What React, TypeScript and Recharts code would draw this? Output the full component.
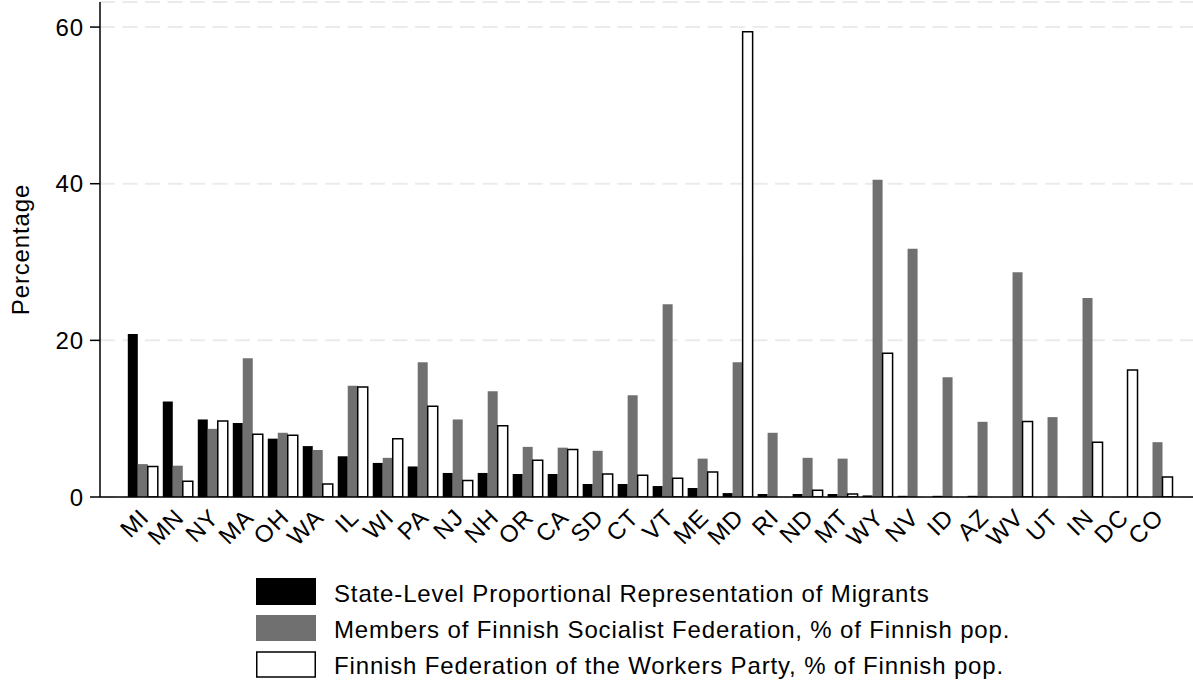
import React from "react";
import { BarChart, Bar, XAxis, YAxis, CartesianGrid, Legend, Label } from "recharts";

const states = ["MI","MN","NY","MA","OH","WA","IL","WI","PA","NJ","NH","OR","CA","SD","CT","VT","ME","MD","RI","ND","MT","WY","NV","ID","AZ","WV","UT","IN","DC","CO"];
const migrants = [20.8,12.2,9.9,9.45,7.45,6.5,5.2,4.35,3.9,3.07,3.07,2.94,2.94,1.66,1.66,1.4,1.15,0.5,0.38,0.38,0.38,0.2,0.15,0.15,0.15,null,null,null,null,null];
const socialist = [4.2,4.0,8.7,17.7,8.2,6.0,14.2,5.0,17.2,9.9,13.5,6.4,6.3,5.9,13.0,24.6,4.9,17.2,8.2,5.0,4.9,40.5,31.7,15.3,9.6,28.7,10.2,25.4,null,7.0];
const workers = [3.9,2.0,9.7,8.0,7.9,1.65,14.05,7.45,11.6,2.1,9.1,4.7,6.05,2.94,2.77,2.4,3.2,59.4,null,0.85,0.38,18.35,null,null,null,9.65,null,7.0,16.2,2.55];
const yTicks = [0, 20, 40, 60];
const seriesNames = [
  "State-Level Proportional Representation of Migrants",
  "Members of Finnish Socialist Federation, % of Finnish pop.",
  "Finnish Federation of the Workers Party, % of Finnish pop.",
];

const data = states.map((s, i) => ({
  state: s,
  migrants: migrants[i],
  socialist: socialist[i],
  workers: workers[i],
}));

const FONT = "'Liberation Sans', Arial, Helvetica, sans-serif";
const GRAY = "#707070";
const FS = 24;
const LS = 0.85;

const XTick = (props: any) => {
  const { x, y, payload } = props;
  const ax = x + 7;
  const ay = y + 22;
  return (
    <text
      x={ax}
      y={ay}
      transform={`rotate(-45, ${ax}, ${ay})`}
      textAnchor="end"
      fontSize={FS}
      fontFamily={FONT}
      letterSpacing={LS}
      fill="#000"
    >
      {payload.value}
    </text>
  );
};

const LegendContent = () => {
  const fills = ["#000", GRAY, "#fff"];
  const rects = [
    { y: 8, h: 27 },
    { y: 45, h: 26 },
    { y: 82, h: 25 },
  ];
  const baselines = [31.5, 67.5, 103.5];
  return (
    <svg width={820} height={112} style={{ display: "block" }}>
      {seriesNames.map((n, i) => (
        <g key={n}>
          <rect
            x={i === 2 ? 0.75 : 0}
            y={rects[i].y}
            width={i === 2 ? 58.5 : 60}
            height={rects[i].h}
            fill={fills[i]}
            stroke={i === 2 ? "#000" : "none"}
            strokeWidth={1.5}
          />
          <text x={78} y={baselines[i]} fontSize={FS} fontFamily={FONT} letterSpacing={LS} fill="#000">
            {n}
          </text>
        </g>
      ))}
    </svg>
  );
};

export default function App() {
  return (
    <div style={{ position: "absolute", left: 0, top: 0, background: "#fff" }}>
      <BarChart
        width={1193}
        height={683}
        data={data}
        margin={{ top: 2, right: 0, left: 0, bottom: 0 }}
        barSize={10}
        barGap={0}
      >
        <CartesianGrid
          horizontal={true}
          vertical={false}
          stroke="#ebebeb"
          strokeWidth={2}
          strokeDasharray="15 7.5"
        />
        <XAxis
          dataKey="state"
          type="category"
          height={186}
          interval={0}
          tickLine={false}
          tickSize={0}
          tickMargin={0}
          padding={{ left: 25.8, right: 17.5 }}
          axisLine={{ stroke: "#000", strokeWidth: 1.5 }}
          tick={<XTick />}
        />
        <YAxis
          width={100}
          domain={[0, 63.2]}
          ticks={yTicks}
          type="number"
          allowDataOverflow={true}
          tickSize={10}
          tickMargin={6}
          tickLine={{ stroke: "#000", strokeWidth: 1.5 }}
          axisLine={{ stroke: "#000", strokeWidth: 1.5 }}
          tick={{ fill: "#000", fontSize: FS, fontFamily: FONT, letterSpacing: LS }}
        >
          <Label
            content={(p: any) => {
              const vb = p.viewBox || { y: 2, height: 495 };
              const cy = vb.y + vb.height / 2;
              return (
                <text
                  x={29}
                  y={cy}
                  transform={`rotate(-90, 29, ${cy})`}
                  textAnchor="middle"
                  fontSize={FS}
                  fontFamily={FONT}
                  letterSpacing={LS}
                  fill="#000"
                >
                  Percentage
                </text>
              );
            }}
          />
        </YAxis>
        <Legend
          layout="vertical"
          align="center"
          verticalAlign="middle"
          wrapperStyle={{ left: 256, top: 570, width: 820, height: 112 }}
          content={<LegendContent />}
        />
        <Bar dataKey="migrants" name={seriesNames[0]} fill="#000" isAnimationActive={false} />
        <Bar dataKey="socialist" name={seriesNames[1]} fill={GRAY} isAnimationActive={false} />
        <Bar
          dataKey="workers"
          name={seriesNames[2]}
          fill="#fff"
          stroke="#000"
          strokeWidth={1.5}
          isAnimationActive={false}
        />
      </BarChart>
    </div>
  );
}
